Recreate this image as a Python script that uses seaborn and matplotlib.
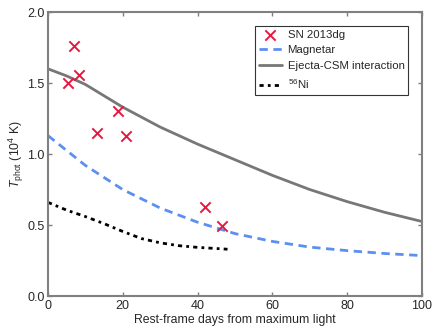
import numpy as np
import pandas as pd
import seaborn as sns
import matplotlib.pyplot as plt

# observed photospheric temperatures of SN 2013dg (10^4 K)
obs_days = [5.3, 7.0, 8.4, 13.2, 18.8, 20.8, 42.0, 46.6]
obs_temp = [1.50, 1.76, 1.56, 1.15, 1.30, 1.13, 0.63, 0.49]

# model curves
csm_days = [0, 5, 10, 20, 30, 40, 50, 60, 70, 80, 90, 100]
csm_temp = [1.60, 1.55, 1.49, 1.33, 1.19, 1.07, 0.96, 0.85, 0.75, 0.665, 0.59, 0.525]

mag_days = [0, 10, 20, 30, 40, 50, 60, 70, 80, 90, 100]
mag_temp = [1.13, 0.92, 0.75, 0.62, 0.52, 0.44, 0.385, 0.345, 0.32, 0.30, 0.285]

ni_days = [0, 5, 10, 15, 20, 25, 30, 35, 40, 45, 48]
ni_temp = [0.66, 0.605, 0.56, 0.51, 0.455, 0.405, 0.375, 0.355, 0.343, 0.335, 0.33]

sns.set_style("ticks")
plt.rcParams['font.family'] = ['Liberation Sans', 'DejaVu Sans']
plt.rcParams['mathtext.fontset'] = 'custom'
plt.rcParams['mathtext.rm'] = 'Liberation Sans'
plt.rcParams['mathtext.it'] = 'Liberation Sans:italic'

fig = plt.figure(figsize=(4.36, 3.29), dpi=100)
ax = fig.add_axes([0.110, 0.100, 0.858, 0.8635])

sns.scatterplot(x=obs_days, y=obs_temp, marker='x', color='#e8173f', s=55,
                linewidth=1.4, ax=ax, label='SN 2013dg', zorder=5)
sns.lineplot(x=mag_days, y=mag_temp, color='#5b8ff0', lw=2, ax=ax,
             label='Magnetar', dashes=False)
ax.lines[-1].set_linestyle((0, (3, 2)))
sns.lineplot(x=csm_days, y=csm_temp, color='#777777', lw=2, ax=ax,
             label='Ejecta-CSM interaction')
sns.lineplot(x=ni_days, y=ni_temp, color='black', lw=2, ax=ax,
             label='$^{56}$Ni')
ax.lines[-1].set_linestyle((0, (1.5, 1.5, 1, 1.5)))

ax.set_xlim(0, 100)
ax.set_ylim(0, 2.0)
ax.set_xticks([0, 20, 40, 60, 80, 100])
ax.set_yticks([0.0, 0.5, 1.0, 1.5, 2.0])
ax.set_yticklabels(['0.0', '0.5', '1.0', '1.5', '2.0'])
ax.tick_params(direction='in', top=True, right=True, labelsize=9,
               color='#808080', length=3, width=1, pad=2.5)
for sp in ax.spines.values():
    sp.set_color('#808080')
    sp.set_linewidth(1.5)

ax.set_xlabel('Rest-frame days from maximum light', fontsize=8.8, labelpad=2)
ax.set_ylabel('$T_\\mathrm{phot}$ (10$^4$ K)', fontsize=8.8, labelpad=1)

leg = ax.legend(loc='upper right', fontsize=8.2, frameon=True, fancybox=False,
                edgecolor='black', borderaxespad=1.2, handlelength=2.0,
                labelspacing=0.5, borderpad=0.35, handletextpad=0.5)
leg.get_frame().set_linewidth(0.8)

fig.savefig('out.png', dpi=100)
